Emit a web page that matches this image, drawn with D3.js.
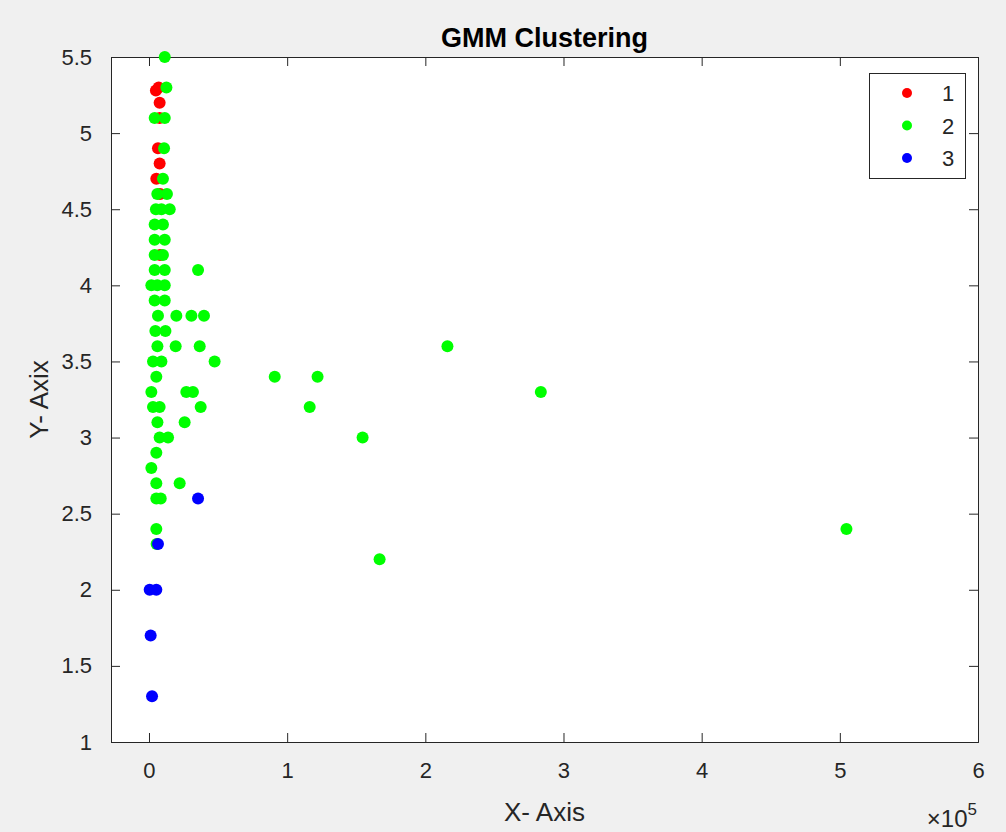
<!DOCTYPE html>
<html>
<head>
<meta charset="utf-8">
<script src="https://cdn.jsdelivr.net/npm/d3@7"></script>
<style>
  body { margin: 0; background: #f0f0f0; }
  svg { display: block; font-family: "Liberation Sans", Arial, sans-serif; }
</style>
</head>
<body>
<div id="chart"></div>
<script>
// cluster 1 (red)
var c1x = [5000, 7000, 7700, 7700, 6500, 7700, 5300, 8000, 8000];
var c1y = [5.28, 5.3, 5.2, 5.1, 4.9, 4.8, 4.7, 4.6, 4.2];
// cluster 2 (green)
var c2x = [11400, 12600, 4100, 11400, 10900, 10100, 6000, 13000, 5000, 9000, 15000,
  4100, 10100, 4100, 11400, 4100, 10100, 4100, 11400, 35500, 1700, 6000, 11400,
  4100, 11400, 6500, 19800, 30700, 39800, 4600, 11900, 6100, 19300, 36700, 216000,
  2900, 9000, 47500, 5300, 91000, 122000, 1700, 27000, 31800, 283600,
  2900, 7700, 37400, 116300, 6100, 25800, 7700, 13800, 154600, 5300, 1700,
  5300, 22200, 5300, 8500, 5300, 504800, 5500, 166900];
var c2y = [5.5, 5.3, 5.1, 5.1, 4.9, 4.7, 4.6, 4.6, 4.5, 4.5, 4.5,
  4.4, 4.4, 4.3, 4.3, 4.2, 4.2, 4.1, 4.1, 4.1, 4.0, 4.0, 4.0,
  3.9, 3.9, 3.8, 3.8, 3.8, 3.8, 3.7, 3.7, 3.6, 3.6, 3.6, 3.6,
  3.5, 3.5, 3.5, 3.4, 3.4, 3.4, 3.3, 3.3, 3.3, 3.3,
  3.2, 3.2, 3.2, 3.2, 3.1, 3.1, 3.0, 3.0, 3.0, 2.9, 2.8,
  2.7, 2.7, 2.6, 2.6, 2.4, 2.4, 2.3, 2.2];
// cluster 3 (blue)
var c3x = [35500, 6500, 500, 5300, 1200, 2200];
var c3y = [2.6, 2.3, 2.0, 2.0, 1.7, 1.3];

var groups = ["1", "2", "3"];
var colors = ["#ff0000", "#00ff00", "#0000ff"];
var xTicks = [0, 100000, 200000, 300000, 400000, 500000, 600000];
var yTicks = [1, 1.5, 2, 2.5, 3, 3.5, 4, 4.5, 5, 5.5];

var W = 1006, H = 832;
var pLeft = 111, pRight = 978, pTop = 57, pBottom = 742;

var svg = d3.select("#chart").append("svg")
    .attr("width", W)
    .attr("height", H);

var x = d3.scaleLinear().domain([-27500, 600000]).range([pLeft, pRight]);
var y = d3.scaleLinear().domain([1, 5.5]).range([pBottom, pTop]);

svg.append("rect")
    .attr("x", pLeft).attr("y", pTop)
    .attr("width", pRight - pLeft).attr("height", pBottom - pTop)
    .attr("fill", "#fff");

var axisColor = "#262626";
var tl = 9;

// axes, ticks inward on all four sides
var gx = svg.append("g").attr("transform", "translate(0," + pBottom + ")")
    .call(d3.axisBottom(x).tickValues(xTicks).tickSize(-tl).tickPadding(20)
      .tickFormat(function(d) { return d / 100000; }));
var gxt = svg.append("g").attr("transform", "translate(0," + pTop + ")")
    .call(d3.axisTop(x).tickValues(xTicks).tickSize(-tl).tickFormat(""));
var gy = svg.append("g").attr("transform", "translate(" + pLeft + ",0)")
    .call(d3.axisLeft(y).tickValues(yTicks).tickSize(-tl).tickPadding(19)
      .tickFormat(d3.format("")));
var gyr = svg.append("g").attr("transform", "translate(" + pRight + ",0)")
    .call(d3.axisRight(y).tickValues(yTicks).tickSize(-tl).tickFormat(""));

[gx, gxt, gy, gyr].forEach(function(g) {
  g.select(".domain").attr("stroke", axisColor);
  g.selectAll(".tick line").attr("stroke", axisColor);
  g.selectAll(".tick text").attr("fill", axisColor).style("font-size", "22px");
});

var clusters = [
  d3.zip(c1x, c1y),
  d3.zip(c2x, c2y),
  d3.zip(c3x, c3y)
];

clusters.forEach(function(pts, i) {
  svg.append("g").selectAll("circle")
    .data(pts)
    .enter().append("circle")
    .attr("cx", function(d) { return x(d[0]); })
    .attr("cy", function(d) { return y(d[1]); })
    .attr("r", 6)
    .attr("fill", colors[i]);
});

// title and labels
svg.append("text")
    .attr("x", (pLeft + pRight) / 2).attr("y", 47)
    .attr("text-anchor", "middle")
    .style("font-size", "27px").style("font-weight", "bold")
    .attr("fill", "#000")
    .text("GMM Clustering");

svg.append("text")
    .attr("x", (pLeft + pRight) / 2).attr("y", 821)
    .attr("text-anchor", "middle")
    .style("font-size", "26px")
    .attr("fill", axisColor)
    .text("X- Axis");

svg.append("text")
    .attr("transform", "translate(48," + ((pTop + pBottom) / 2) + ") rotate(-90)")
    .attr("text-anchor", "middle")
    .style("font-size", "26px")
    .attr("fill", axisColor)
    .text("Y- Axix");

var expo = svg.append("text")
    .attr("x", 977).attr("y", 827)
    .attr("text-anchor", "end")
    .style("font-size", "24px")
    .attr("fill", axisColor);
expo.append("tspan").text("\u00d710");
expo.append("tspan").attr("dy", -12).style("font-size", "17px").text("5");

// legend
var lg = svg.append("g");
lg.append("rect")
    .attr("x", 869.5).attr("y", 73.5)
    .attr("width", 96).attr("height", 105)
    .attr("fill", "#fff").attr("stroke", axisColor);
groups.forEach(function(gname, i) {
  var cy = 93 + i * 32.5;
  lg.append("circle").attr("cx", 907).attr("cy", cy).attr("r", 5).attr("fill", colors[i]);
  lg.append("text").attr("x", 948).attr("y", cy + 8)
    .attr("text-anchor", "middle")
    .style("font-size", "22px").attr("fill", axisColor)
    .text(gname);
});
</script>
</body>
</html>
